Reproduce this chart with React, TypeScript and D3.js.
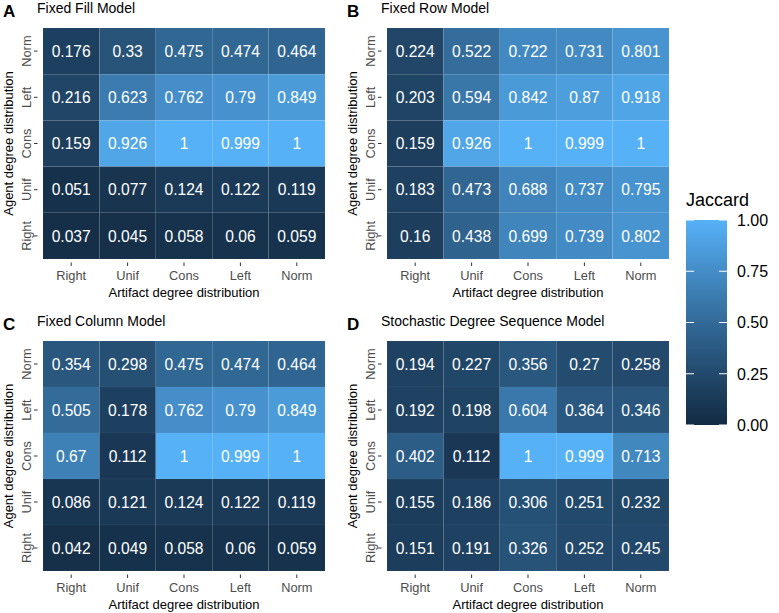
import React from "react";
import * as d3 from "d3";

const cols = ["Right", "Unif", "Cons", "Left", "Norm"];
const rows = ["Norm", "Left", "Cons", "Unif", "Right"];

const fixedFill = [
  [0.176, 0.33, 0.475, 0.474, 0.464],
  [0.216, 0.623, 0.762, 0.79, 0.849],
  [0.159, 0.926, 1, 0.999, 1],
  [0.051, 0.077, 0.124, 0.122, 0.119],
  [0.037, 0.045, 0.058, 0.06, 0.059],
];
const fixedRow = [
  [0.224, 0.522, 0.722, 0.731, 0.801],
  [0.203, 0.594, 0.842, 0.87, 0.918],
  [0.159, 0.926, 1, 0.999, 1],
  [0.183, 0.473, 0.688, 0.737, 0.795],
  [0.16, 0.438, 0.699, 0.739, 0.802],
];
const fixedColumn = [
  [0.354, 0.298, 0.475, 0.474, 0.464],
  [0.505, 0.178, 0.762, 0.79, 0.849],
  [0.67, 0.112, 1, 0.999, 1],
  [0.086, 0.121, 0.124, 0.122, 0.119],
  [0.042, 0.049, 0.058, 0.06, 0.059],
];
const stochastic = [
  [0.194, 0.227, 0.356, 0.27, 0.258],
  [0.192, 0.198, 0.604, 0.364, 0.346],
  [0.402, 0.112, 1, 0.999, 0.713],
  [0.155, 0.186, 0.306, 0.251, 0.232],
  [0.151, 0.191, 0.326, 0.252, 0.245],
];

const panelLabels = ["A", "B", "C", "D"];
const panelTitles = ["Fixed Fill Model", "Fixed Row Model", "Fixed Column Model", "Stochastic Degree Sequence Model"];
const panelData = [fixedFill, fixedRow, fixedColumn, stochastic];
const legendTicks = [0, 0.25, 0.5, 0.75, 1];

const FONT = "Liberation Sans, Arial, Helvetica, sans-serif";
const color = d3.scaleSequential(d3.interpolateLab("#132B43", "#56B1F7")).domain([0, 1]);

const panelW = 282;
const panelGeom = [
  { ox: 0, x0: 43, y0: 28, h: 231, topY: 0 },
  { ox: 344, x0: 387, y0: 28, h: 231, topY: 0 },
  { ox: 0, x0: 43, y0: 341, h: 230, topY: 313 },
  { ox: 344, x0: 387, y0: 341, h: 230, topY: 313 },
];

function Panel({ idx }: { idx: number }) {
  const g = panelGeom[idx];
  const data = panelData[idx];
  const x = d3.scaleBand().domain(cols).range([g.x0, g.x0 + panelW]).padding(0);
  const y = d3.scaleBand().domain(rows).range([g.y0, g.y0 + g.h]).padding(0);
  const bottom = g.y0 + g.h;
  const cy = g.y0 + g.h / 2;
  return (
    <g>
      <text x={g.ox + 3} y={g.topY + 17} fontFamily={FONT} fontWeight="bold" fontSize={17} fill="#000">
        {panelLabels[idx]}
      </text>
      <text x={g.ox + 37} y={g.topY + 13} fontFamily={FONT} fontSize={14} fill="#000">
        {panelTitles[idx]}
      </text>
      {rows.map((r, i) =>
        cols.map((c, j) => (
          <g key={r + c}>
            <rect
              x={x(c)!}
              y={y(r)!}
              width={x.bandwidth()}
              height={y.bandwidth()}
              fill={color(data[i][j])}
              stroke="rgba(255,255,255,0.06)"
              strokeWidth={0.6}
            />
            <text
              x={x(c)! + x.bandwidth() / 2}
              y={y(r)! + y.bandwidth() / 2}
              dy="0.36em"
              textAnchor="middle"
              fontFamily={FONT}
              fontSize={15.6}
              fill="#fff"
            >
              {String(data[i][j])}
            </text>
          </g>
        ))
      )}
      {cols.map((c) => (
        <g key={"xt" + c}>
          <line x1={x(c)! + x.bandwidth() / 2} x2={x(c)! + x.bandwidth() / 2} y1={bottom + 3.5} y2={bottom + 7} stroke="#333" strokeWidth={1} />
          <text x={x(c)! + x.bandwidth() / 2} y={bottom + 21} textAnchor="middle" fontFamily={FONT} fontSize={12.8} fill="#4D4D4D">
            {c}
          </text>
        </g>
      ))}
      {rows.map((r) => (
        <g key={"yt" + r}>
          <line x1={g.x0 - 9} x2={g.x0 - 5.5} y1={y(r)! + y.bandwidth() / 2} y2={y(r)! + y.bandwidth() / 2} stroke="#333" strokeWidth={1} />
          <text
            transform={`translate(${g.x0 - 12},${y(r)! + y.bandwidth() / 2}) rotate(-90)`}
            textAnchor="middle"
            fontFamily={FONT}
            fontSize={12.8}
            fill="#4D4D4D"
          >
            {r}
          </text>
        </g>
      ))}
      <text x={g.x0 + panelW / 2} y={bottom + 38} textAnchor="middle" fontFamily={FONT} fontSize={13} fill="#000">
        Artifact degree distribution
      </text>
      <text transform={`translate(${g.ox + 13},${cy}) rotate(-90)`} textAnchor="middle" fontFamily={FONT} fontSize={13} fill="#000">
        Agent degree distribution
      </text>
    </g>
  );
}

function Legend() {
  const bx = 686;
  const bw = 41;
  const top = 220;
  const bot = 425;
  const ly = d3.scaleLinear().domain([0, 1]).range([bot, top]);
  const stops = d3.range(0, 1.0001, 0.05);
  return (
    <g>
      <defs>
        <linearGradient id="jacGrad" x1="0" y1="1" x2="0" y2="0">
          {stops.map((s) => (
            <stop key={s} offset={s} stopColor={color(s)} />
          ))}
        </linearGradient>
      </defs>
      <text x={bx} y={206} fontFamily={FONT} fontSize={18} fill="#000">
        Jaccard
      </text>
      <rect x={bx} y={top} width={bw} height={bot - top} fill="url(#jacGrad)" />
      {legendTicks.map((t) => (
        <g key={t}>
          <line x1={bx} x2={bx + 8} y1={ly(t)} y2={ly(t)} stroke="#fff" strokeWidth={1} />
          <line x1={bx + bw - 8} x2={bx + bw} y1={ly(t)} y2={ly(t)} stroke="#fff" strokeWidth={1} />
          <text x={bx + bw + 10} y={ly(t)} dy="0.36em" fontFamily={FONT} fontSize={16} fill="#000">
            {t.toFixed(2)}
          </text>
        </g>
      ))}
    </g>
  );
}

export default function App() {
  return (
    <svg width={779} height={613} style={{ position: "absolute", left: 0, top: 0, background: "#fff" }}>
      <rect width={779} height={613} fill="#fff" />
      {[0, 1, 2, 3].map((i) => (
        <Panel key={i} idx={i} />
      ))}
      <Legend />
    </svg>
  );
}
